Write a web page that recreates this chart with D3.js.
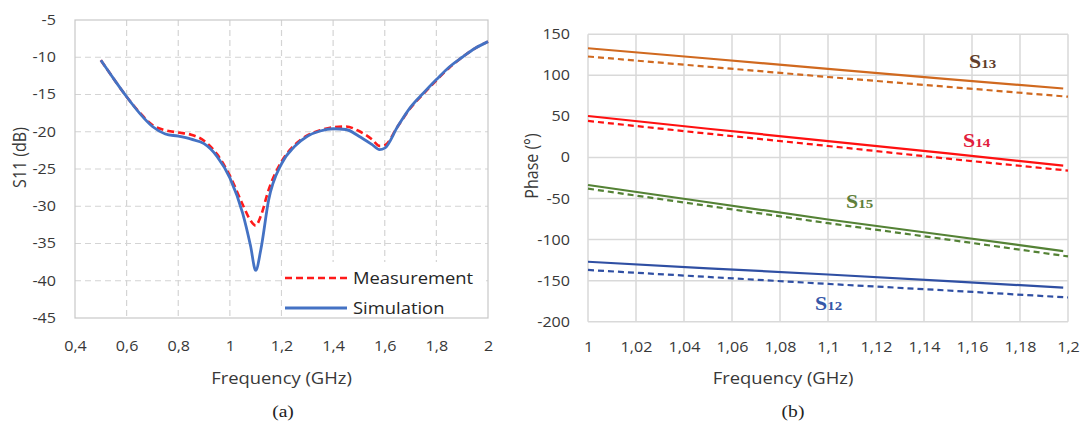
<!DOCTYPE html>
<html><head><meta charset="utf-8">
<script src="https://cdn.jsdelivr.net/npm/d3@7"></script>
<style>
html,body{margin:0;padding:0;background:#fff;}
svg{display:block;}
text{font-family:"Open Sans",sans-serif;fill:#383838;}
</style></head>
<body><svg id="c" width="1083" height="421"></svg>
<script>
// ---------- Data: (a) S11 ----------
const s11Freq = [0.5,0.55,0.6,0.65,0.7,0.75,0.8,0.85,0.9,0.95,1.0,1.05,1.08,1.1,1.12,1.15,1.2,1.25,1.3,1.35,1.4,1.45,1.5,1.55,1.58,1.6,1.65,1.7,1.75,1.8,1.85,1.9,1.95,2.0];
const s11Simulation = [-10.4,-12.9,-15.3,-17.5,-19.3,-20.3,-20.6,-21.0,-21.6,-23.3,-26.2,-31.0,-35.3,-38.6,-35.8,-29.2,-24.3,-22.0,-20.6,-19.9,-19.6,-19.7,-20.6,-21.7,-22.4,-22.2,-19.3,-16.7,-14.8,-13.0,-11.3,-10.0,-8.8,-7.9];
const s11Measurement = [-10.4,-12.9,-15.3,-17.4,-19.1,-19.8,-20.1,-20.4,-21.2,-23.0,-25.9,-29.8,-31.9,-32.6,-31.3,-27.8,-24.0,-21.8,-20.5,-19.8,-19.4,-19.3,-19.9,-21.0,-21.9,-21.8,-19.3,-16.8,-14.9,-13.1,-11.4,-10.0,-8.8,-7.9];
const aXTicks = [0.4,0.6,0.8,1.0,1.2,1.4,1.6,1.8,2.0];
const aXTickLabels = ["0,4","0,6","0,8","1","1,2","1,4","1,6","1,8","2"];
const aYTicks = [-45,-40,-35,-30,-25,-20,-15,-10,-5];
const aYTickLabels = ["-45","-40","-35","-30","-25","-20","-15","-10","-5"];
const aLegend = ["Measurement","Simulation"];

// ---------- Data: (b) Phase ----------
const phaseFreq = [1.0,1.05,1.1,1.15,1.2];
const phaseFreqSolid = [1.0,1.05,1.1,1.15,1.198];
const s13Solid  = [133,120.5,108,95.5,84];
const s13Dashed = [123,110.5,98,86,74];
const s14Solid  = [50.5,35,20,5,-10];
const s14Dashed = [44.5,29,14,-1.5,-16];
const s15Solid  = [-33.5,-54.5,-75.5,-95,-114];
const s15Dashed = [-38,-59,-80,-100,-120.5];
const s12Solid  = [-127,-135,-142.5,-150.5,-158.5];
const s12Dashed = [-137,-145.5,-154,-162,-170.5];
const bXTicks = [1.0,1.02,1.04,1.06,1.08,1.1,1.12,1.14,1.16,1.18,1.2];
const bXTickLabels = ["1","1,02","1,04","1,06","1,08","1,1","1,12","1,14","1,16","1,18","1,2"];
const bYTicks = [-200,-150,-100,-50,0,50,100,150];
const bYTickLabels = ["-200","-150","-100","-50","0","50","100","150"];
const seriesNames = ["S12","S13","S14","S15"];

const SX = 1.15; // horizontal stretch of the original picture
const svg = d3.select("#c");

function stretchAxisText(g){
  g.selectAll(".tick text").each(function(){
    const t = d3.select(this);
    const x = +t.attr("x") || 0;
    t.attr("x", x / SX).attr("transform", `scale(${SX},1)`);
  });
}
function label(x, y, txt, opts){
  opts = opts || {};
  const g = svg.append("g").attr("transform", `translate(${x},${y})` + (opts.rotate ? ` rotate(-90) scale(1,${SX})` : ` scale(${SX},1)`));
  const t = g.append("text").attr("text-anchor", opts.anchor || "middle")
    .style("font-size", (opts.size || 16) + "px").text(txt);
  if (opts.family) t.style("font-family", opts.family);
  if (opts.fill) t.style("fill", opts.fill);
  return t;
}

// ================= Chart (a) =================
const A = {x0:75, x1:488, y0:20, y1:318};
const ax = d3.scaleLinear().domain([0.4,2.0]).range([A.x0,A.x1]);
const ay = d3.scaleLinear().domain([-45,-5]).range([A.y1,A.y0]);

const ga = svg.append("g");
ga.append("g").selectAll("line").data(aYTicks.filter(v=>v>-45 && v<-5)).join("line")
  .attr("x1",A.x0).attr("x2",A.x1).attr("y1",d=>ay(d)).attr("y2",d=>ay(d))
  .attr("stroke","#d4d4d4").attr("stroke-width",1.2).attr("stroke-dasharray","6,4");
ga.append("g").selectAll("line").data(aXTicks.filter(v=>v>0.4 && v<2.0)).join("line")
  .attr("y1",A.y0).attr("y2",A.y1).attr("x1",d=>ax(d)).attr("x2",d=>ax(d))
  .attr("stroke","#d4d4d4").attr("stroke-width",1.2).attr("stroke-dasharray","6,4");
ga.append("rect").attr("x",A.x0).attr("y",A.y0).attr("width",A.x1-A.x0).attr("height",A.y1-A.y0)
  .attr("fill","none").attr("stroke","#c8c8c8").attr("stroke-width",1.2);

const axA = ga.append("g").attr("transform",`translate(0,${A.y1})`)
  .call(d3.axisBottom(ax).tickValues(aXTicks).tickFormat((d,i)=>aXTickLabels[i]).tickSize(0).tickPadding(23));
axA.select(".domain").remove();
axA.selectAll("text").style("font-size","14px").style("font-family","Open Sans").attr("fill","#383838");
stretchAxisText(axA);
const ayA = ga.append("g").attr("transform",`translate(${A.x0},0)`)
  .call(d3.axisLeft(ay).tickValues(aYTicks).tickFormat((d,i)=>aYTickLabels[i]).tickSize(0).tickPadding(19));
ayA.select(".domain").remove();
ayA.selectAll("text").style("font-size","14px").style("font-family","Open Sans").attr("fill","#383838");
stretchAxisText(ayA);

const lineA = d3.line().x(d=>ax(d[0])).y(d=>ay(d[1])).curve(d3.curveMonotoneX);
ga.append("path").datum(s11Freq.map((f,i)=>[f,s11Measurement[i]])).attr("d",lineA)
  .attr("fill","none").attr("stroke","#ff1a1a").attr("stroke-width",2.6).attr("stroke-dasharray","7,4");
ga.append("path").datum(s11Freq.map((f,i)=>[f,s11Simulation[i]])).attr("d",lineA)
  .attr("fill","none").attr("stroke","#4472c4").attr("stroke-width",2.8);

const lg = ga.append("g");
lg.append("rect").attr("x",282).attr("y",262).attr("width",204).attr("height",55).attr("fill","#fff");
lg.append("line").attr("x1",285).attr("x2",347).attr("y1",278).attr("y2",278)
  .attr("stroke","#ff1a1a").attr("stroke-width",2.6).attr("stroke-dasharray","7,4");
lg.append("line").attr("x1",285).attr("x2",347).attr("y1",308).attr("y2",308)
  .attr("stroke","#4472c4").attr("stroke-width",2.8);
label(353,284,aLegend[0],{anchor:"start",size:16,fill:"#262626"});
label(353,314,aLegend[1],{anchor:"start",size:16,fill:"#262626"});

label(281.5,384,"Frequency (GHz)",{size:16});
label(26,157.5,"S11 (dB)",{rotate:true,size:16});
label(283,417,"(a)",{size:17,family:"Liberation Serif",fill:"#222"});

// ================= Chart (b) =================
const B = {x0:588, x1:1068, y0:34.3, y1:321.7};
const bx = d3.scaleLinear().domain([1.0,1.2]).range([B.x0,B.x1]);
const by = d3.scaleLinear().domain([-200,150]).range([B.y1,B.y0]);
const gb = svg.append("g");
gb.append("g").selectAll("line").data(bYTicks).join("line")
  .attr("x1",B.x0).attr("x2",B.x1).attr("y1",d=>by(d)).attr("y2",d=>by(d))
  .attr("stroke","#d9d9d9").attr("stroke-width",1.5);
gb.append("g").selectAll("line").data(bXTicks).join("line")
  .attr("y1",B.y0).attr("y2",B.y1).attr("x1",d=>bx(d)).attr("x2",d=>bx(d))
  .attr("stroke","#d9d9d9").attr("stroke-width",1.5);

const axB = gb.append("g").attr("transform",`translate(0,${B.y1})`)
  .call(d3.axisBottom(bx).tickValues(bXTicks).tickFormat((d,i)=>bXTickLabels[i]).tickSize(0).tickPadding(20));
axB.select(".domain").remove();
axB.selectAll("text").style("font-size","14px").style("font-family","Open Sans").attr("fill","#383838");
stretchAxisText(axB);
const ayB = gb.append("g").attr("transform",`translate(${B.x0},0)`)
  .call(d3.axisLeft(by).tickValues(bYTicks).tickFormat((d,i)=>bYTickLabels[i]).tickSize(0).tickPadding(18));
ayB.select(".domain").remove();
ayB.selectAll("text").style("font-size","14px").style("font-family","Open Sans").attr("fill","#383838");
stretchAxisText(ayB);

const lineB = d3.line().x(d=>bx(d[0])).y(d=>by(d[1]));
const phaseSeries = [
  {solid:s13Solid, dashed:s13Dashed, color:"#d0691f"},
  {solid:s14Solid, dashed:s14Dashed, color:"#ff1010"},
  {solid:s15Solid, dashed:s15Dashed, color:"#548235"},
  {solid:s12Solid, dashed:s12Dashed, color:"#2f4fa3"}
];
phaseSeries.forEach(s=>{
  gb.append("path").datum(phaseFreqSolid.map((f,i)=>[f,s.solid[i]])).attr("d",lineB)
    .attr("fill","none").attr("stroke",s.color).attr("stroke-width",2.2);
  gb.append("path").datum(phaseFreq.map((f,i)=>[f,s.dashed[i]])).attr("d",lineB)
    .attr("fill","none").attr("stroke",s.color).attr("stroke-width",2.2).attr("stroke-dasharray","6,4");
});

function sLabel(x,y,name,color){
  const g = svg.append("g").attr("transform",`translate(${x},${y}) scale(${SX},1)`);
  const t = g.append("text").attr("text-anchor","start")
    .style("font-family","Liberation Serif").style("font-weight","bold").style("fill",color);
  t.append("tspan").style("font-size","19px").text(name[0]);
  t.append("tspan").style("font-size","13px").text(name.slice(1));
}
sLabel(969,68,seriesNames[1],"#5e3d2b");
sLabel(963,147,seriesNames[2],"#e2203c");
sLabel(846,208,seriesNames[3],"#5f7f3a");
sLabel(815,310,seriesNames[0],"#3557a8");

label(783,384,"Frequency (GHz)",{size:16});
label(538,166,"Phase (°)",{rotate:true,size:16});
label(793,417,"(b)",{size:17,family:"Liberation Serif",fill:"#222"});
</script></body></html>
